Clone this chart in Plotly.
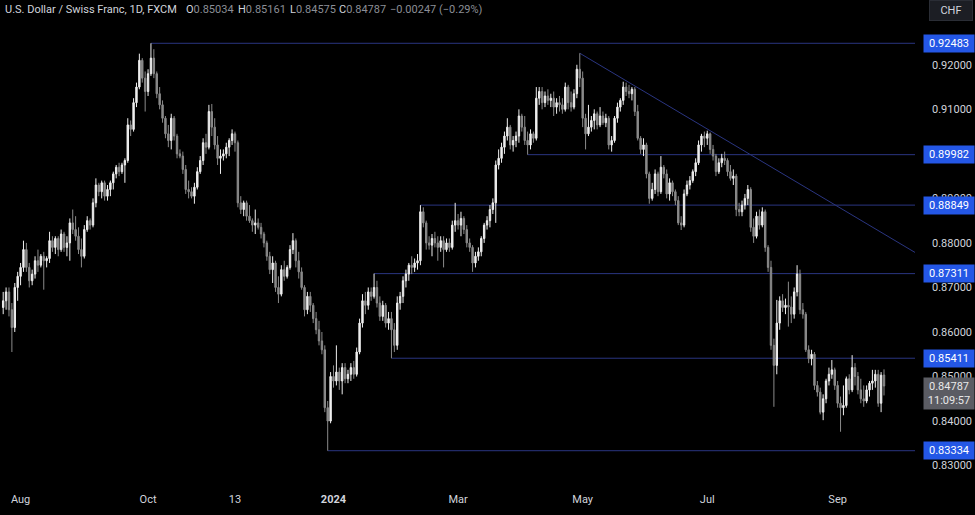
import pandas as pd
import plotly.graph_objects as go

# ---------------- data (prices in pips, /10000) ----------------
start_date = "2023-07-24"
end_date = "2024-09-24"
holidays = ["2023-12-25", "2024-01-01"]

opens = [
 8655,8670,8690,8650,8610,8700,8725,8745,8785,8745,
 8715,8730,8760,8750,8770,8760,8765,8805,8790,8810,
 8785,8820,8790,8800,8845,8830,8815,8785,8770,8830,
 8850,8840,8890,8930,8915,8935,8905,8920,8935,8955,
 8970,8960,8975,8985,9065,9055,9115,9150,9210,9170,
 9140,9180,9215,9180,9135,9110,9080,9045,9030,9080,
 9040,9000,8995,8965,8920,8915,8905,8925,8960,8985,
 9025,9015,9095,9060,9020,8990,8995,9000,9015,9030,
 9045,9025,8890,8875,8890,8860,8850,8840,8845,8835,
 8820,8800,8770,8740,8755,8700,8685,8740,8725,8745,
 8785,8805,8760,8735,8700,8650,8680,8660,8630,8605,
 8580,8560,8430,8400,8500,8490,8510,8490,8520,8495,
 8505,8520,8505,8555,8620,8670,8660,8690,8680,8700,
 8665,8635,8660,8620,8630,8605,8570,8665,8680,8715,
 8730,8750,8745,8755,8760,8870,8845,8800,8795,8810,
 8800,8790,8805,8785,8800,8790,8840,8850,8840,8855,
 8830,8800,8790,8755,8770,8780,8810,8840,8850,8875,
 8890,8975,8990,9015,9040,9060,9020,9030,9040,9085,
 9060,9030,9020,9045,9035,9125,9140,9115,9130,9120,
 9125,9105,9115,9110,9100,9150,9115,9105,9135,9190,
 9170,9080,9045,9060,9075,9090,9065,9085,9070,9080,
 9020,9030,9080,9105,9120,9150,9140,9135,9145,9095,
 9035,9010,9020,8955,8900,8920,8955,8915,8970,8955,
 8910,8935,8915,8895,8845,8840,8910,8930,8940,8960,
 8980,9020,9040,9035,9045,9010,8995,8960,8980,8990,
 8985,8960,8945,8950,8875,8870,8885,8900,8920,8835,
 8815,8860,8840,8870,8790,8745,8570,8525,8620,8670,
 8655,8660,8656,8640,8690,8730,8650,8640,8560,8540,
 8550,8480,8465,8420,8450,8490,8505,8515,8480,8440,
 8430,8435,8495,8470,8520,8500,8470,8450,8445,8470,
 8485,8490,8505,8440,8503.4,
]
highs = [
 8690,8700,8700,8665,8710,8735,8755,8805,8800,8755,
 8740,8770,8785,8775,8780,8770,8825,8815,8815,8815,
 8830,8825,8815,8855,8875,8860,8835,8810,8840,8860,
 8855,8900,8945,8935,8940,8940,8930,8940,8960,8975,
 8980,8980,8990,9080,9075,9125,9160,9225,9215,9185,
 9190,9248.3,9235,9185,9150,9120,9085,9065,9090,9085,
 9045,9010,9005,8975,8940,8925,8935,8970,8995,9035,
 9045,9110,9112,9080,9040,9010,9010,9025,9035,9055,
 9050,9030,8905,8895,8895,8885,8855,8875,8855,8845,
 8825,8805,8780,8770,8760,8725,8750,8760,8750,8795,
 8822,8810,8780,8745,8705,8690,8690,8665,8645,8625,
 8600,8570,8445,8510,8525,8570,8520,8530,8530,8515,
 8530,8535,8565,8630,8685,8690,8700,8700,8731.1,8715,
 8680,8670,8665,8645,8645,8620,8680,8690,8725,8740,
 8755,8770,8765,8775,8884.9,8880,8850,8815,8820,8825,
 8815,8815,8815,8810,8810,8850,8890,8865,8870,8860,
 8840,8810,8795,8780,8790,8815,8845,8860,8885,8900,
 8985,9010,9025,9050,9080,9065,9040,9050,9100,9090,
 9085,9050,9055,9050,9150,9150,9150,9140,9145,9135,
 9140,9125,9130,9125,9160,9155,9140,9145,9200,9226,
 9185,9090,9110,9085,9100,9095,9105,9095,9090,9085,
 9040,9085,9115,9125,9162,9160,9155,9150,9150,9110,
 9040,9035,9025,8960,8935,8965,8960,8995,8975,8965,
 8945,8940,8920,8905,8860,8920,8940,8950,8965,8990,
 9030,9045,9050,9052,9048,9020,9000,8990,9000,9005,
 8990,8975,8965,8955,8890,8895,8910,8930,8925,8855,
 8870,8875,8880,8875,8795,8760,8585,8672,8680,8685,
 8675,8713,8680,8700,8750,8740,8665,8645,8570,8560,
 8555,8490,8475,8460,8495,8520,8537,8520,8490,8455,
 8480,8500,8505,8548,8530,8510,8495,8480,8480,8490,
 8515,8515,8515,8510,8516.1,
]
lows = [
 8640,8650,8635,8555,8600,8670,8705,8735,8735,8700,
 8705,8720,8735,8745,8695,8745,8755,8780,8775,8770,
 8780,8780,8770,8760,8820,8805,8775,8745,8765,8825,
 8830,8835,8880,8905,8900,8895,8895,8905,8920,8945,
 8950,8955,8935,8980,9040,9050,9105,9145,9160,9095,
 9130,9175,9170,9125,9100,9070,9035,9015,9010,9030,
 8990,8990,8955,8910,8900,8900,8888,8920,8955,8975,
 9000,9010,9040,9010,8975,8955,8985,8990,8995,9020,
 9005,8880,8865,8860,8850,8845,8825,8820,8830,8810,
 8790,8760,8730,8710,8690,8665,8680,8715,8720,8740,
 8775,8745,8720,8695,8635,8640,8645,8620,8595,8570,
 8550,8420,8333.4,8395,8475,8480,8470,8460,8485,8485,
 8490,8495,8500,8550,8610,8640,8650,8670,8675,8655,
 8625,8625,8610,8605,8541.1,8555,8560,8650,8665,8700,
 8715,8730,8735,8740,8750,8835,8785,8785,8770,8790,
 8760,8780,8745,8780,8780,8785,8825,8830,8815,8820,
 8790,8780,8735,8745,8760,8770,8800,8830,8835,8865,
 8845,8965,8980,9000,9030,9010,9005,9015,9025,9050,
 9020,8998.2,9010,9025,9030,9110,9100,9105,9110,9105,
 9085,9090,9095,9090,9095,9100,9095,9100,9125,9150,
 9060,9010,9040,9050,9055,9055,9060,9065,9060,9010,
 9005,9025,9070,9095,9110,9130,9125,9120,9085,9030,
 9000,8995,8945,8888,8895,8910,8905,8910,8945,8900,
 8895,8905,8885,8840,8829,8835,8905,8920,8935,8950,
 8975,9005,9015,9020,9000,8985,8950,8955,8970,8975,
 8950,8940,8930,8860,8860,8860,8875,8885,8825,8800,
 8810,8830,8835,8780,8735,8560,8432,8505,8605,8645,
 8640,8612,8620,8630,8680,8640,8630,8555,8530,8525,
 8470,8455,8415,8402,8440,8480,8495,8470,8430,8376,
 8413,8430,8460,8465,8480,8460,8440,8432,8440,8455,
 8470,8475,8432,8420,8457.5,
]
closes = [
 8670,8690,8650,8610,8700,8725,8745,8785,8745,8715,
 8730,8760,8750,8770,8760,8765,8805,8790,8810,8785,
 8820,8790,8800,8845,8830,8815,8785,8770,8830,8850,
 8840,8890,8930,8915,8935,8905,8920,8935,8955,8970,
 8960,8975,8985,9065,9055,9115,9150,9210,9170,9140,
 9180,9215,9180,9135,9110,9080,9045,9030,9080,9040,
 9000,8995,8965,8920,8915,8905,8925,8960,8985,9025,
 9015,9095,9060,9020,8990,8995,9000,9015,9030,9045,
 9025,8890,8875,8890,8860,8850,8840,8845,8835,8820,
 8800,8770,8740,8755,8700,8685,8740,8725,8745,8785,
 8805,8760,8735,8700,8650,8680,8660,8630,8605,8580,
 8560,8430,8400,8500,8490,8510,8490,8520,8495,8505,
 8520,8505,8555,8620,8670,8660,8690,8680,8700,8665,
 8635,8660,8620,8630,8605,8570,8665,8680,8715,8730,
 8750,8745,8755,8760,8870,8845,8800,8795,8810,8800,
 8790,8805,8785,8800,8790,8840,8850,8840,8855,8830,
 8800,8790,8755,8770,8780,8810,8840,8850,8875,8890,
 8975,8990,9015,9040,9060,9020,9030,9040,9085,9060,
 9030,9020,9045,9035,9125,9140,9115,9130,9120,9125,
 9105,9115,9110,9100,9150,9115,9105,9135,9190,9170,
 9080,9045,9060,9075,9090,9065,9085,9070,9080,9020,
 9030,9080,9105,9120,9150,9140,9135,9145,9095,9035,
 9010,9020,8955,8900,8920,8955,8915,8970,8955,8910,
 8935,8915,8895,8845,8840,8910,8930,8940,8960,8980,
 9020,9040,9035,9045,9010,8995,8960,8980,8990,8985,
 8960,8945,8950,8875,8870,8885,8900,8920,8835,8815,
 8860,8840,8870,8790,8745,8570,8525,8620,8670,8655,
 8660,8656,8640,8690,8730,8650,8640,8560,8540,8550,
 8480,8465,8420,8450,8490,8505,8515,8480,8440,8430,
 8435,8495,8470,8520,8500,8470,8450,8445,8470,8485,
 8490,8505,8440,8503,8478.7,
]

# horizontal levels: price, start date
level_prices = [0.92483, 0.89982, 0.88849, 0.87311, 0.85411, 0.83334]
level_starts = ["2023-10-03", "2024-04-04", "2024-02-13", "2024-01-22", "2024-01-30", "2023-12-28"]
level_texts = ["0.92483", "0.89982", "0.88849", "0.87311", "0.85411", "0.83334"]

# trendline anchors
trend_dates = ["2024-04-30", "2024-07-02"]
trend_prices = [0.9226, 0.9052]

ytick_vals = [0.83, 0.84, 0.85, 0.86, 0.87, 0.88, 0.89, 0.90, 0.91, 0.92]
ytick_text = ["0.83000", "0.84000", "0.85000", "0.86000", "0.87000",
              "0.88000", "0.89000", "0.90000", "0.91000", "0.92000"]
xtick_dates = ["2023-08-01", "2023-10-02", "2023-11-13", "2024-01-02",
               "2024-03-01", "2024-05-01", "2024-07-01", "2024-09-02"]
xtick_text = ["Aug", "Oct", "13", "<b>2024</b>", "Mar", "May", "Jul", "Sep"]

last_price = 0.84787
countdown = "11:09:57"

# ---------------- build ----------------
days = [d.strftime("%Y-%m-%d") for d in pd.bdate_range(start_date, end_date)
        if d.strftime("%Y-%m-%d") not in holidays]
n = min(len(days), len(opens), len(highs), len(lows), len(closes))
days = days[:n]
O = [v / 10000 for v in opens[:n]]
H = [v / 10000 for v in highs[:n]]
L = [v / 10000 for v in lows[:n]]
C = [v / 10000 for v in closes[:n]]

W, Hpx = 975, 515
PLOT_W = 915
X_LEFT, X_RIGHT = -1.1, 314.7
Y_LOW, Y_HIGH = 0.82564, 0.93455

UP = "#eeeeee"
DOWN = "#8a8a8a"
LINE = "#2a3580"
BOX = "#2457e6"
TXT = "#d1d4dc"

fig = go.Figure()
fig.add_trace(go.Candlestick(
    x=days, open=O, high=H, low=L, close=C,
    increasing=dict(line=dict(color=UP, width=1), fillcolor=UP),
    decreasing=dict(line=dict(color=DOWN, width=1), fillcolor=DOWN),
    showlegend=False, hoverinfo="skip",
))

shapes = []
for p, s in zip(level_prices, level_starts):
    xi = days.index(s)
    shapes.append(dict(type="line", xref="x", yref="y", x0=xi, x1=X_RIGHT,
                       y0=p, y1=p, line=dict(color=LINE, width=1), layer="below"))

ta, tb = days.index(trend_dates[0]), days.index(trend_dates[1])
slope = (trend_prices[1] - trend_prices[0]) / (tb - ta)
y_end = trend_prices[0] + slope * (X_RIGHT - ta)
shapes.append(dict(type="line", xref="x", yref="y", x0=ta, x1=X_RIGHT,
                   y0=trend_prices[0], y1=y_end, line=dict(color=LINE, width=1), layer="below"))

ann = []
label_x = 949 / PLOT_W
for p, t in zip(level_prices, level_texts):
    ann.append(dict(xref="paper", yref="y", x=label_x, y=p, text=t, showarrow=False,
                    xanchor="center", yanchor="middle", bgcolor=BOX, borderpad=2,
                    font=dict(family="Roboto", size=11, color="#ffffff"), width=46))
ann.append(dict(xref="paper", yref="y", x=label_x, y=last_price,
                text=f"{last_price:.5f}<br>{countdown}", showarrow=False,
                xanchor="center", yanchor="top", yshift=9, bgcolor="#5b5c63", borderpad=2,
                font=dict(family="Roboto", size=11, color="#e8e8e8"), width=46, align="center"))
ann.append(dict(xref="paper", yref="paper", x=951 / PLOT_W, y=1, yanchor="top", xanchor="center",
                text="CHF", showarrow=False, bgcolor="#1c1e24", bordercolor="#2a2d35",
                borderwidth=1, borderpad=3, width=36,
                font=dict(family="Roboto", size=11, color=TXT)))

# header
HDR = 11
ann.append(dict(xref="paper", yref="paper", x=3 / PLOT_W, y=1 - 9 / 485, xanchor="left",
                yanchor="middle", showarrow=False,
                text="U.S. Dollar / Swiss Franc, 1D, FXCM",
                font=dict(family="Roboto", size=HDR, color=TXT)))
G = "#8b8e96"
parts = [(184, f"O<span style='color:{G}'>0.85034</span>"),
         (236, f"H<span style='color:{G}'>0.85161</span>"),
         (288, f"L<span style='color:{G}'>0.84575</span>"),
         (337, f"C<span style='color:{G}'>0.84787</span>"),
         (388, f"<span style='color:{G}'>\u22120.00247 (\u22120.29%)</span>")]
for px, t in parts:
    ann.append(dict(xref="paper", yref="paper", x=px / PLOT_W, y=1 - 9 / 485, xanchor="left",
                    yanchor="middle", showarrow=False, text=t,
                    font=dict(family="Roboto", size=HDR, color=TXT)))

fig.update_layout(
    width=W, height=Hpx,
    margin=dict(l=0, r=W - PLOT_W, t=0, b=30),
    paper_bgcolor="#000000", plot_bgcolor="#000000",
    shapes=shapes, annotations=ann, showlegend=False,
    xaxis=dict(type="category", range=[X_LEFT, X_RIGHT], rangeslider=dict(visible=False),
               showgrid=False, zeroline=False, showline=False, ticks="",
               tickmode="array", tickvals=xtick_dates, ticktext=xtick_text,
               tickfont=dict(family="Roboto", size=11, color=TXT), ticklabelstandoff=6),
    yaxis=dict(side="right", range=[Y_LOW, Y_HIGH], showgrid=False, zeroline=False,
               showline=False, ticks="", tickmode="array", tickvals=ytick_vals,
               ticktext=ytick_text, tickfont=dict(family="Roboto", size=11, color=TXT),
               ticklabelstandoff=16),
    font=dict(family="Roboto"),
)

fig.write_html("out.html", config={"displayModeBar": False},
               post_script="document.body.style.margin='0px';document.body.style.background='#000';")
